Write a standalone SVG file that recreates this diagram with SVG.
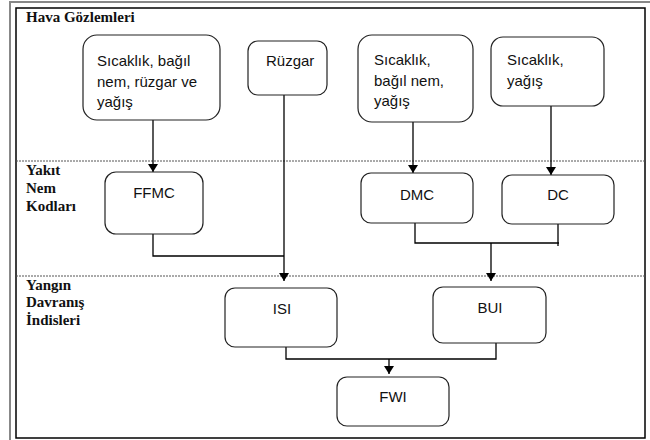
<svg xmlns="http://www.w3.org/2000/svg" width="650" height="440" viewBox="0 0 650 440">
<style>
.box{fill:#fff;stroke:#222;stroke-width:1.2}
.t{font-family:"Liberation Sans",Arial,sans-serif;font-size:15px;fill:#111}
.tc{font-family:"Liberation Sans",Arial,sans-serif;font-size:15px;fill:#111;text-anchor:middle}
.h{font-family:"Liberation Serif","Times New Roman",serif;font-size:15px;font-weight:bold;fill:#111}
.c{fill:none;stroke:#000;stroke-width:1.3}
.a{fill:none;stroke:#000;stroke-width:1.3;marker-end:url(#ah)}
.d{stroke:#555;stroke-width:1;stroke-dasharray:2 1}
</style>
<defs>
<marker id="ah" markerWidth="8" markerHeight="10" refX="8" refY="5" orient="auto" markerUnits="userSpaceOnUse">
<path d="M0,0 L8,5 L0,10 Z" fill="#000"/>
</marker>
</defs>
<rect width="650" height="440" fill="#fff"/>
<g id="frame">
<path d="M10,440 V2 H650" fill="none" stroke="#888" stroke-width="2"/>
<rect x="16" y="8" width="629" height="430" fill="none" stroke="#000" stroke-width="1.5"/>
<line class="d" x1="16" y1="161" x2="645" y2="161"/>
<line class="d" x1="16" y1="276" x2="645" y2="276"/>
</g>
<g id="labels">
<text class="h" x="26" y="22">Hava Gözlemleri</text>
<text class="h" x="26" y="175">Yakıt</text>
<text class="h" x="26" y="193">Nem</text>
<text class="h" x="26" y="211">Kodları</text>
<text class="h" x="26" y="290">Yangın</text>
<text class="h" x="26" y="307">Davranış</text>
<text class="h" x="26" y="325">İndisleri</text>
</g>
<g id="connectors">
<line class="a" x1="153" y1="120" x2="153" y2="172"/>
<line class="a" x1="284" y1="95" x2="284" y2="281"/>
<polyline class="c" points="153,234 153,256 284,256"/>
<line class="a" x1="413" y1="122" x2="413" y2="173"/>
<line class="a" x1="551" y1="106" x2="551" y2="175"/>
<polyline class="c" points="415,223 415,243 559,243"/>
<line class="c" x1="558" y1="224" x2="558" y2="246"/>
<line class="a" x1="491" y1="243" x2="491" y2="281"/>
<polyline class="c" points="286,347 286,359 496,359 496,343"/>
<line class="a" x1="389" y1="359" x2="389" y2="374"/>
</g>
<g id="n1">
<rect class="box" x="83" y="35" width="137" height="85" rx="14"/>
<text class="t" x="97" y="66">Sıcaklık, bağıl</text>
<text class="t" x="97" y="87">nem, rüzgar ve</text>
<text class="t" x="97" y="107">yağış</text>
</g>
<g id="n2">
<rect class="box" x="248" y="41" width="79" height="54" rx="10"/>
<text class="t" x="266" y="66">Rüzgar</text>
</g>
<g id="n3">
<rect class="box" x="358" y="35" width="115" height="87" rx="14"/>
<text class="t" x="374" y="65">Sıcaklık,</text>
<text class="t" x="374" y="86">bağıl nem,</text>
<text class="t" x="374" y="106">yağış</text>
</g>
<g id="n4">
<rect class="box" x="491" y="37" width="113" height="69" rx="12"/>
<text class="t" x="507" y="65">Sıcaklık,</text>
<text class="t" x="507" y="86">yağış</text>
</g>
<g id="ffmc">
<rect class="box" x="105" y="172" width="98" height="62" rx="11"/>
<text class="tc" x="154" y="198">FFMC</text>
</g>
<g id="dmc">
<rect class="box" x="361" y="173" width="112" height="50" rx="10"/>
<text class="tc" x="417" y="200">DMC</text>
</g>
<g id="dc">
<rect class="box" x="502" y="175" width="112" height="49" rx="10"/>
<text class="tc" x="558" y="200">DC</text>
</g>
<g id="isi">
<rect class="box" x="225" y="288" width="112" height="59" rx="10"/>
<text class="tc" x="282" y="314">ISI</text>
</g>
<g id="bui">
<rect class="box" x="433" y="287" width="113" height="56" rx="10"/>
<text class="tc" x="490" y="313">BUI</text>
</g>
<g id="fwi">
<rect class="box" x="337" y="377" width="112" height="49" rx="10"/>
<text class="tc" x="393" y="402">FWI</text>
</g>
</svg>
